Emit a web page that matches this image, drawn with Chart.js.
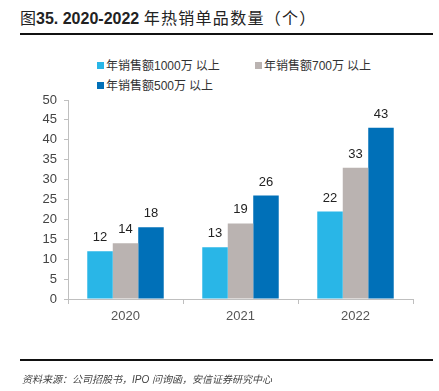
<!DOCTYPE html>
<html>
<head>
<meta charset="utf-8">
<script src="https://cdn.jsdelivr.net/npm/chart.js@4.4.1/dist/chart.umd.min.js"></script>
<style>
    body { margin: 0; background: #fff; font-family: "Liberation Sans", Arial, "Noto Sans CJK SC", sans-serif; }
    #wrap { position: relative; width: 439px; height: 391px; overflow: hidden; }
    #chart-canvas { position: absolute; left: 0; top: 0; }
    .title { position: absolute; left: 20px; top: 5px; font-size: 16px; color: #222; white-space: nowrap; }
    .title b { font-weight: bold; }
    .title .cn { letter-spacing: 1.3px; }
    .rule { position: absolute; left: 20px; width: 413px; height: 1.5px; background: #111; }
    .legend-item { position: absolute; font-size: 12px; color: #333; white-space: nowrap; }
    .legend-item span { display: inline-block; width: 7px; height: 7px; margin-right: 2px; vertical-align: 1px; }
    .source { position: absolute; left: 22px; top: 371px; font-size: 10px; font-style: italic; color: #444; white-space: nowrap; }
</style>
</head>
<body>
<div id="wrap">
    <div class="title">图<b>35. 2020-2022</b> <span class="cn">年热销单品数量（个）</span></div>
    <div class="rule" style="top:33px"></div>
    <div id="legend"></div>
    <canvas id="chart-canvas" width="439" height="391"></canvas>
    <div class="rule" style="top:359px"></div>
    <div class="source">资料来源：公司招股书，IPO 问询函，安信证券研究中心</div>
</div>
<script>
const years = ["2020", "2021", "2022"];
const seriesNames = ["年销售额1000万以上", "年销售额700万以上", "年销售额500万以上"];
const over1000 = [12, 13, 22];
const over700 = [14, 19, 33];
const over500 = [18, 26, 43];
const seriesColors = ["#29b6e7", "#bab3b1", "#0070b8"];
const yTicks = [0, 5, 10, 15, 20, 25, 30, 35, 40, 45, 50];

// Legend (two rows, left aligned)
const legendPos = [[97, 56], [255, 56], [97, 76]];
const legendEl = document.getElementById("legend");
seriesNames.forEach((name, i) => {
    const item = document.createElement("div");
    item.className = "legend-item";
    item.style.left = legendPos[i][0] + "px";
    item.style.top = legendPos[i][1] + "px";
    item.innerHTML = `<span style="background:${seriesColors[i]}"></span>${name.replace("万", "万<span style='width:3px;margin:0'></span>")}`;
    legendEl.appendChild(item);
});

// Value labels above the bars
const barLabels = {
    id: "barLabels",
    afterDatasetsDraw(chart) {
        const c = chart.ctx;
        c.save();
        c.font = "13px 'Liberation Sans', Arial";
        c.fillStyle = "#222";
        c.textAlign = "center";
        c.textBaseline = "bottom";
        chart.data.datasets.forEach((ds, i) => {
            chart.getDatasetMeta(i).data.forEach((bar, j) => {
                c.fillText(ds.data[j], bar.x, bar.y - 7);
            });
        });
        c.restore();
    }
};

const seriesData = [over1000, over700, over500];
const ctx = document.getElementById("chart-canvas").getContext("2d");
const chart = new Chart(ctx, {
    type: "bar",
    data: {
        labels: years,
        datasets: seriesNames.map((name, i) => ({
            label: name,
            data: seriesData[i],
            backgroundColor: seriesColors[i],
            borderWidth: 0,
            barPercentage: 1,
            categoryPercentage: 0.665,
        })),
    },
    options: {
        responsive: false,
        animation: false,
        layout: { padding: { left: 0, top: 100, right: 26, bottom: 0 } },
        plugins: { legend: { display: false }, tooltip: { enabled: false } },
        scales: {
            x: {
                grid: { display: true, drawOnChartArea: false, drawTicks: true, tickLength: 5, color: "#bfbfbf", offset: true },
                border: { color: "#bfbfbf", width: 1 },
                ticks: { color: "#555", padding: 5, font: { size: 13, family: "'Liberation Sans', Arial" } },
                afterFit: (scale) => { scale.height = 92; },
            },
            y: {
                min: 0, max: 50,
                afterBuildTicks: (scale) => { scale.ticks = yTicks.map(v => ({ value: v })); },
                grid: { display: true, drawOnChartArea: false, drawTicks: true, tickLength: 4, color: "#bfbfbf" },
                border: { color: "#bfbfbf", width: 1 },
                ticks: { color: "#444", padding: 7, font: { size: 13, family: "'Liberation Sans', Arial" } },
                afterFit: (scale) => { scale.width = 68; },
            },
        },
    },
    plugins: [barLabels],
});
</script>
</body>
</html>
